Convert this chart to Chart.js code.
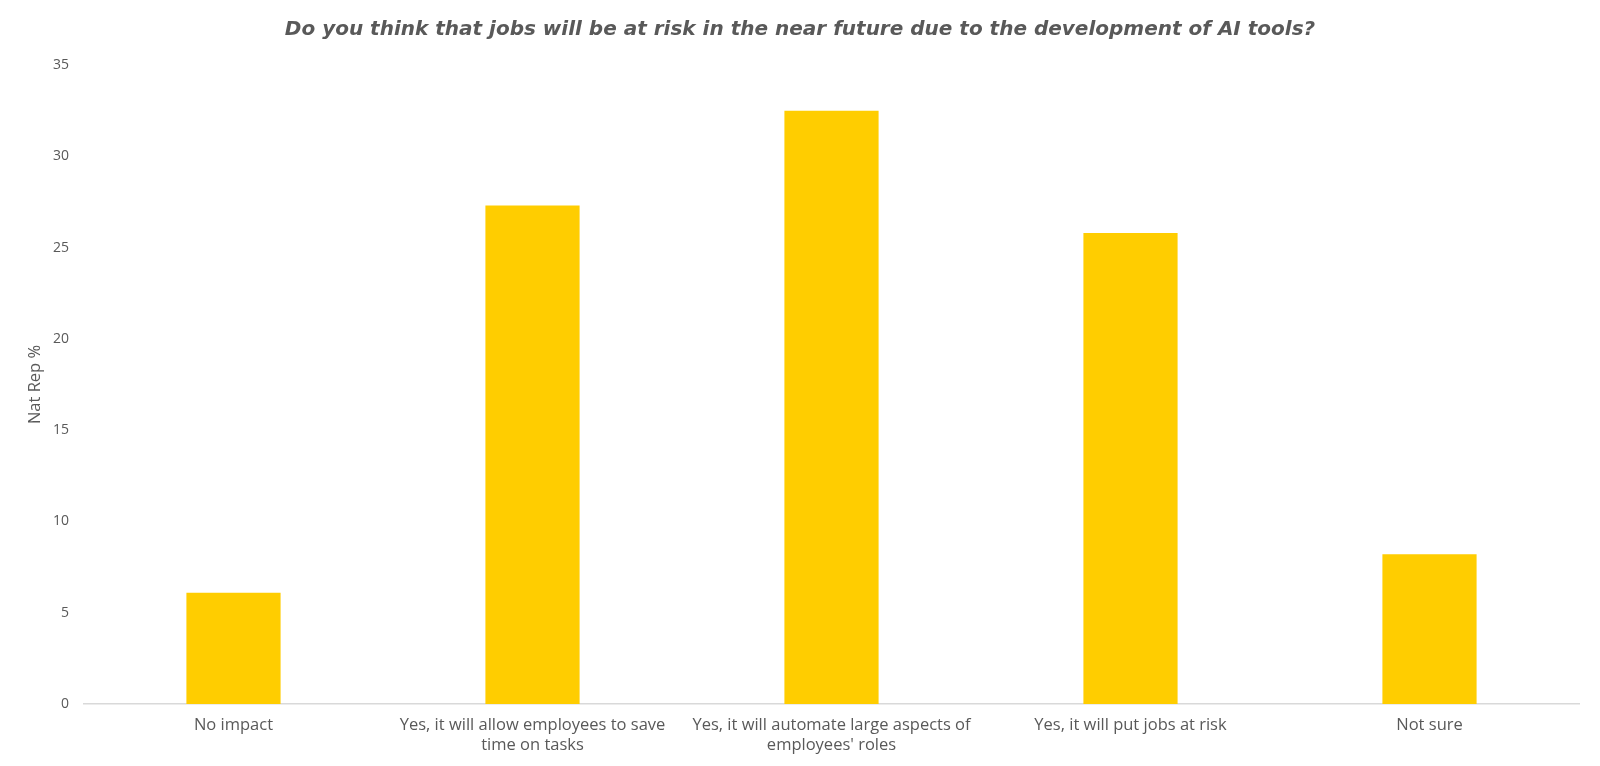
<!DOCTYPE html>
<html>
<head>
<meta charset="utf-8">
<script src="https://cdn.jsdelivr.net/npm/chart.js@4.4.1/dist/chart.umd.min.js"></script>
<style>
html,body{margin:0;padding:0;background:#fff;}
#wrap{width:1600px;height:766px;position:relative;}
</style>
</head>
<body>
<div id="wrap"><canvas id="c" width="1600" height="766"></canvas></div>
<script>
const categories = [
  "No impact",
  ["Yes, it will allow employees to save", "time on tasks"],
  ["Yes, it will automate large aspects of", "employees' roles"],
  "Yes, it will put jobs at risk",
  "Not sure"
];
const values = [6.1, 27.3, 32.5, 25.8, 8.2];
const yTicks = [0, 5, 10, 15, 20, 25, 30, 35];
const titleText = "Do you think that jobs will be at risk in the near future due to the development of AI tools?";
const yTitle = "Nat Rep %";

const FONT = "'Open Sans', 'DejaVu Sans', sans-serif";
const TITLE_FONT = "'DejaVu Sans', sans-serif";
const GREY = "#595959";

new Chart(document.getElementById('c'), {
  type: 'bar',
  data: {
    labels: categories,
    datasets: [{
      data: values,
      backgroundColor: '#FFCD00',
      borderWidth: 0,
      categoryPercentage: 1,
      barPercentage: 0.315
    }]
  },
  options: {
    responsive: false,
    animation: false,
    devicePixelRatio: 1,
    layout: { padding: { top: 0, right: 21, bottom: 0, left: 21 } },
    plugins: {
      legend: { display: false },
      tooltip: { enabled: false },
      title: {
        display: true,
        text: titleText,
        color: GREY,
        font: { family: TITLE_FONT, size: 20, weight: 'bold', style: 'italic', lineHeight: 1.2 },
        padding: { top: 18, bottom: 23 }
      }
    },
    scales: {
      x: {
        grid: { display: false, drawTicks: false },
        border: { display: true, color: '#D9D9D9', width: 1.5 },
        ticks: {
          color: GREY,
          font: { family: FONT, size: 16.5, lineHeight: 1.17 },
          padding: 12,
          maxRotation: 0,
          autoSkip: false
        },
        afterFit: (s) => { s.height = 62; }
      },
      y: {
        min: 0, max: 35,
        afterBuildTicks: (s) => { s.ticks = yTicks.map(v => ({ value: v })); },
        grid: { display: false, drawTicks: false },
        border: { display: false },
        ticks: {
          color: GREY,
          font: { family: FONT, size: 14 },
          padding: 15
        },
        title: {
          display: true,
          text: yTitle,
          color: GREY,
          font: { family: FONT, size: 16.5 },
          padding: { top: 4, bottom: 0 }
        },
        afterFit: (s) => { s.width = 63; }
      }
    }
  }
});
</script>
</body>
</html>
